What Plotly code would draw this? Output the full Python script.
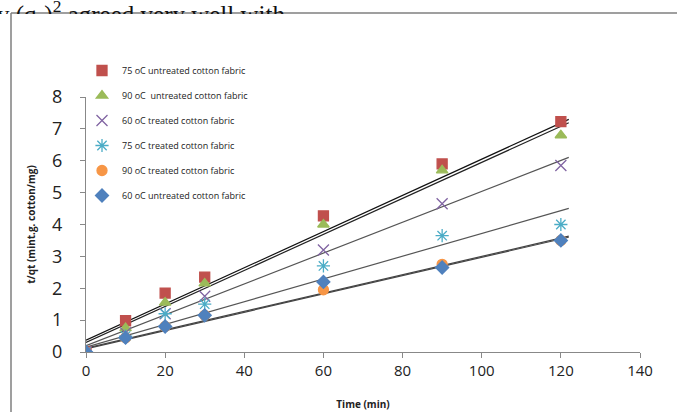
import plotly.graph_objects as go

# sampling times (min)
time_min = [0, 10, 20, 30, 60, 90, 120]

# t/qt values
untreated_75 = [0, 0.98, 1.85, 2.35, 4.27, 5.9, 7.23]
untreated_90 = [0, 0.75, 1.55, 2.15, 4.0, 5.7, 6.8]
treated_60 = [0, 0.6, 1.2, 1.75, 3.2, 4.65, 5.85]
treated_75 = [0, 0.5, 1.2, 1.5, 2.7, 3.65, 4.0]
treated_90 = [0, 0.45, 0.8, 1.15, 1.95, 2.75, 3.5]
untreated_60 = [0, 0.45, 0.8, 1.15, 2.2, 2.65, 3.5]

# linear trendlines (intercept, slope) as drawn in the chart
trend_intercept = [0.37, 0.3, 0.2, 0.15, 0.12, 0.1]
trend_slope = [0.0568, 0.0565, 0.0484, 0.0357, 0.0288, 0.0287]
trend_x = [0, 122]

names = ["75 oC untreated cotton fabric", "90 oC  untreated cotton fabric",
         "60 oC treated cotton fabric", "75 oC treated cotton fabric",
         "90 oC treated cotton fabric", "60 oC untreated cotton fabric"]
series = [untreated_75, untreated_90, treated_60, treated_75, treated_90, untreated_60]

colors = ["#C0504D", "#9BBB59", "#8064A2", "#4BACC6", "#F79646", "#4F81BD"]
symbols = ["square", "triangle-up", "x-thin-open", "asterisk-open", "circle", "diamond"]
sizes = [10, 10, 11, 11, 10, 10]
line_cols = ["#111111", "#222222", "#555555", "#555555", "#444444", "#444444"]

fig = go.Figure()

# trendlines first so markers sit above
for i in range(len(series)):
    ys = [trend_intercept[i] + trend_slope[i] * x for x in trend_x]
    fig.add_trace(go.Scatter(x=trend_x, y=ys, mode="lines",
                             line=dict(color=line_cols[i], width=1.2),
                             showlegend=False, hoverinfo="skip"))

for i in range(len(series)):
    fig.add_trace(go.Scatter(x=time_min, y=series[i], name=names[i], mode="markers",
                             legendgroup=str(i),
                             marker=dict(symbol=symbols[i], size=sizes[i], color=colors[i],
                                         line=dict(color=colors[i], width=1.3))))

L, R, T, B = 86, 37, 97, 60
W, H = 677, 412
pw, ph = W - L - R, H - T - B

def px(x):
    return (x - L) / pw

def py(y):
    return (H - B - y) / ph

fig.update_layout(
    width=W, height=H,
    margin=dict(l=L, r=R, t=T, b=B),
    paper_bgcolor="white", plot_bgcolor="white",
    font=dict(family="Open Sans", color="#222222"),
    showlegend=True,
    legend=dict(x=px(82), y=py(56), xanchor="left", yanchor="top",
                font=dict(size=9, family="Open Sans", color="#222222"),
                tracegroupgap=6, itemwidth=30, bgcolor="rgba(0,0,0,0)"),
    xaxis=dict(range=[0, 140], dtick=20, showgrid=False, zeroline=False, automargin=False,
               showline=True, linecolor="#888888", linewidth=1,
               ticks="outside", ticklen=5, tickcolor="#888888",
               tickfont=dict(size=15, family="Open Sans", color="#222222"),
               title=dict(text="<b>Time (min)</b>", font=dict(size=10, family="Open Sans"),
                          standoff=21)),
    yaxis=dict(range=[0, 8], dtick=1, showgrid=False, zeroline=False, automargin=False,
               showline=True, linecolor="#888888", linewidth=1,
               ticks="outside", ticklen=5, tickcolor="#888888", ticklabelstandoff=14,
               tickfont=dict(size=18, family="Open Sans", color="#222222"),
               title=dict(text="<b>t/qt (mint.g. cotton/mg)</b>",
                          font=dict(size=10, family="Open Sans"), standoff=14)),
)

# cropped document text above the chart frame (box height clips the lower part)
fig.add_annotation(text="y (q<sub>e</sub>)<sup>2</sup> agreed very well with",
                   xref="paper", yref="paper", x=px(-4), y=py(-5),
                   xanchor="left", yanchor="top", valign="top", align="left",
                   height=18, width=340, borderpad=0, showarrow=False,
                   font=dict(family="Liberation Serif", size=25, color="#111111"))

# chart frame (top and left edges visible)
fig.add_shape(type="line", xref="paper", yref="paper", x0=px(11), y0=py(13), x1=px(677), y1=py(13),
              line=dict(color="#7F7F7F", width=1.5))
fig.add_shape(type="line", xref="paper", yref="paper", x0=px(11), y0=py(13), x1=px(11), y1=py(412),
              line=dict(color="#7F7F7F", width=1.5))

# page body margin off so the figure sits at the window corner
fig.write_html("out.html", config={"displayModeBar": False},
               post_script="document.body.style.margin='0';")
